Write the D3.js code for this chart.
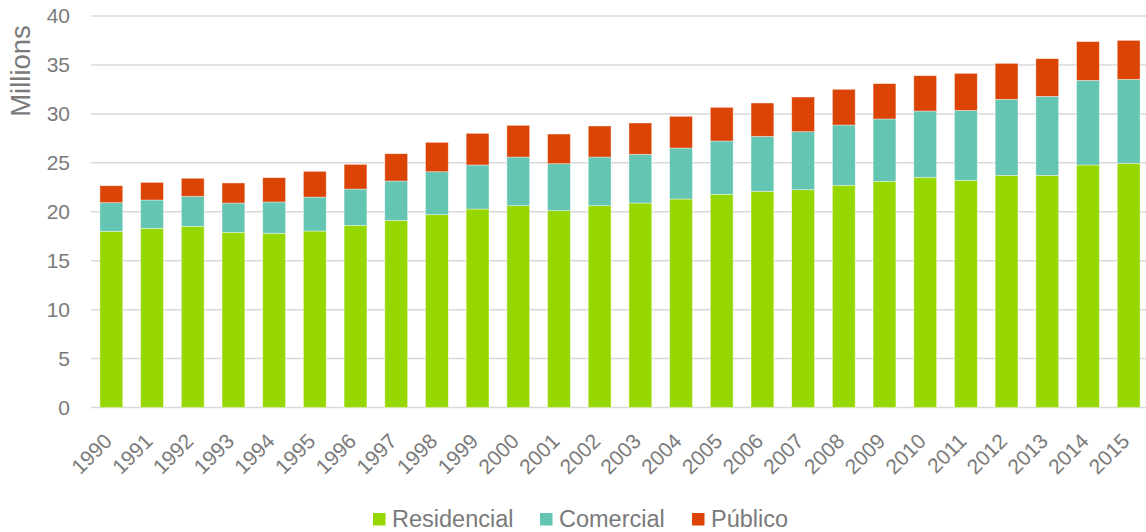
<!DOCTYPE html>
<html lang="es">
<head>
    <meta charset="UTF-8">
    <title>Consumo por sector 1990-2015</title>
    <script src="https://d3js.org/d3.v7.min.js"></script>
    <style>
        body { margin: 0; background: #fff; }
        text { font-family: "Liberation Sans", Arial, sans-serif; fill: #7a7a7a; }
    </style>
</head>
<body>
    <svg width="1146" height="532"></svg>

    <script>
        // Data (millions)
        const years = ["1990","1991","1992","1993","1994","1995","1996","1997","1998","1999","2000","2001","2002",
                       "2003","2004","2005","2006","2007","2008","2009","2010","2011","2012","2013","2014","2015"];
        const residencial = [18.0, 18.31, 18.51, 17.9, 17.8, 18.03, 18.61, 19.12, 19.7, 20.28, 20.62, 20.11, 20.62,
                             20.89, 21.3, 21.78, 22.09, 22.25, 22.7, 23.11, 23.52, 23.21, 23.72, 23.72, 24.78, 24.95];
        const comercial = [2.93, 2.89, 3.07, 2.99, 3.2, 3.47, 3.71, 4.02, 4.39, 4.5, 4.97, 4.8, 4.97,
                           4.98, 5.21, 5.45, 5.62, 5.93, 6.16, 6.37, 6.77, 7.15, 7.77, 8.07, 8.65, 8.58];
        const publico = [1.73, 1.8, 1.84, 2.05, 2.48, 2.63, 2.52, 2.79, 3.0, 3.23, 3.24, 3.03, 3.17,
                         3.2, 3.24, 3.44, 3.4, 3.54, 3.65, 3.61, 3.61, 3.78, 3.67, 3.85, 3.95, 3.98];
        const seriesNames = ["Residencial", "Comercial", "Público"];
        const colors = ["#97d700", "#64c5b3", "#dc4405"];
        const yTicks = [0, 5, 10, 15, 20, 25, 30, 35, 40];

        const width = 1146, height = 532;
        const margin = {top: 16, right: -3, bottom: 124.5, left: 91};
        const svg = d3.select("svg");
        const plotWidth = width - margin.left - margin.right;
        const plotHeight = height - margin.top - margin.bottom;
        const g = svg.append("g").attr("transform", `translate(${margin.left},${margin.top})`);

        const rows = years.map((y, i) => ({year: y, Residencial: residencial[i], Comercial: comercial[i], "Público": publico[i]}));
        const stacked = d3.stack().keys(seriesNames)(rows);

        const x = d3.scaleBand().domain(years).range([0, plotWidth]).paddingInner(0.44).paddingOuter(0.22);
        const y = d3.scaleLinear().domain([0, 40]).range([plotHeight, 0]);

        // Gridlines
        g.append("g")
            .selectAll("line")
            .data(yTicks)
            .join("line")
            .attr("x1", 0)
            .attr("x2", plotWidth)
            .attr("y1", d => y(d))
            .attr("y2", d => y(d))
            .attr("stroke", "#d9d9d9")
            .attr("stroke-width", 1.5);

        // Y axis labels
        const yAxis = g.append("g")
            .attr("transform", "translate(-21,0)")
            .call(d3.axisLeft(y).tickValues(yTicks).tickSize(0).tickPadding(0));
        yAxis.select(".domain").remove();
        yAxis.selectAll("text")
            .style("font-size", "21px")
            .attr("fill", "#7a7a7a")
            .style("font-family", "Liberation Sans, Arial, sans-serif");

        svg.append("text")
            .attr("transform", "translate(30,71) rotate(-90)")
            .attr("text-anchor", "middle")
            .style("font-size", "27.5px")
            .text("Millions");

        // Bars
        g.append("g")
            .selectAll("g")
            .data(stacked)
            .join("g")
            .attr("fill", (d, i) => colors[i])
            .selectAll("rect")
            .data(d => d)
            .join("rect")
            .attr("x", d => x(d.data.year))
            .attr("width", x.bandwidth())
            .attr("y", d => y(d[1]))
            .attr("height", d => y(d[0]) - y(d[1]))
            .attr("stroke", "#ffffff")
            .attr("stroke-opacity", 0.5)
            .attr("stroke-width", 0.75);

        // X axis labels
        const xAxis = g.append("g")
            .attr("transform", `translate(0,${plotHeight})`)
            .call(d3.axisBottom(x).tickSize(0).tickPadding(0));
        xAxis.select(".domain").remove();
        xAxis.selectAll("text")
            .attr("fill", "#7a7a7a")
            .style("font-size", "21px")
            .style("font-family", "Liberation Sans, Arial, sans-serif")
            .attr("text-anchor", "end")
            .attr("y", 0)
            .attr("dy", 0)
            .attr("transform", "translate(2,35) rotate(-45)");

        // Legend
        const legendX = [373, 540, 692];
        const legend = svg.append("g");
        seriesNames.forEach((name, i) => {
            legend.append("rect")
                .attr("x", legendX[i])
                .attr("y", 513)
                .attr("width", 12.5)
                .attr("height", 12.5)
                .attr("fill", colors[i]);
            legend.append("text")
                .attr("x", legendX[i] + 19)
                .attr("y", 526.5)
                .style("font-size", "23.5px")
                .text(name);
        });
    </script>
</body>
</html>
